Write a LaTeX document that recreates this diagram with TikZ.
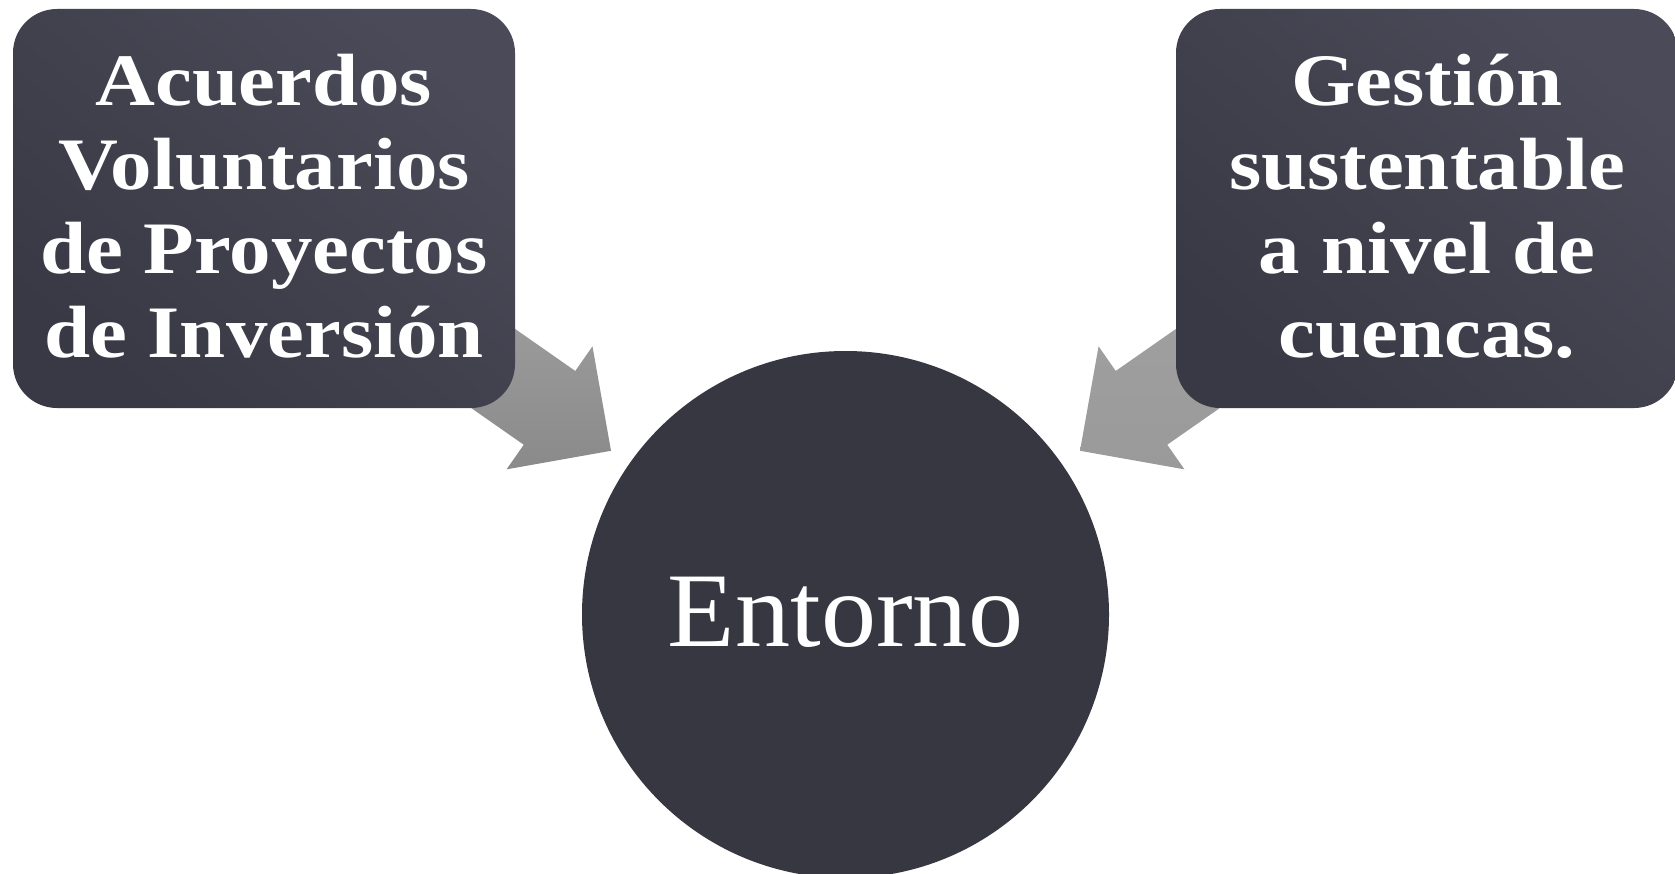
\documentclass[tikz,border=0pt]{standalone}
\usepackage{fontspec}
\setmainfont{Liberation Serif}
\newfontfamily\boxfont[FakeStretch=1.12]{Liberation Serif}
\newfontfamily\circfont[FakeStretch=1.04]{Liberation Serif}
\usetikzlibrary{calc,backgrounds}
\definecolor{boxdark}{HTML}{393945}
\definecolor{boxlight}{HTML}{4A4A58}
\definecolor{circdark}{HTML}{373742}
\definecolor{circlight}{HTML}{494957}
\definecolor{arrlight}{HTML}{ACACAC}
\definecolor{arrdark}{HTML}{8A8A8A}
\definecolor{arrmid}{HTML}{A4A4A4}
\definecolor{arrmiddark}{HTML}{9A9A9A}
\tikzset{
  boxnode/.style={rectangle, rounded corners=44pt, minimum width=502pt, minimum height=399pt,
    inner sep=0pt, align=center, text=white,
    font=\boxfont\fontsize{74}{84}\selectfont\bfseries,
    top color=boxlight, bottom color=boxdark, shading angle=-40},
  circnode/.style={circle, minimum size=527pt, inner sep=0pt, text=white,
    font=\circfont\fontsize{106}{110}\selectfont,
    left color=circdark, middle color=circlight, right color=circdark, shading angle=80},
}
\begin{document}
\begin{tikzpicture}[x=1pt,y=-1pt]
\useasboundingbox (0,0) rectangle (1675,874);
\node[boxnode] (A) at (264,208.5) {\raisebox{-6pt}[\height][\depth]{\begin{tabular}{@{}c@{}}Acuerdos\\Voluntarios\\de Proyectos\\de Inversión\end{tabular}}};
\node[boxnode] (B) at (1427,208.5) {\raisebox{-6pt}[\height][\depth]{\begin{tabular}{@{}c@{}}Gestión\\sustentable\\a nivel de\\cuencas.\end{tabular}}};
\node[circnode] (E) at (845.5,614.5) {\raisebox{2pt}[\height][\depth]{Entorno}};
\begin{scope}[on background layer]
\coordinate (Lt) at ($(E)!286pt!(A)$);
\coordinate (Lh) at ($(Lt)!75pt!(A)$);
\shade[top color=arrlight, bottom color=arrdark]
  ($(A)!45pt!-90:(Lh)$) -- ($(Lh)!45pt!90:(A)$) -- ($(Lh)!75pt!90:(A)$) -- (Lt)
  -- ($(Lh)!75pt!-90:(A)$) -- ($(Lh)!45pt!-90:(A)$) -- ($(A)!45pt!90:(Lh)$) -- cycle;
\coordinate (Rt) at ($(E)!286pt!(B)$);
\coordinate (Rh) at ($(Rt)!75pt!(B)$);
\shade[top color=arrmid, bottom color=arrmiddark]
  ($(B)!45pt!-90:(Rh)$) -- ($(Rh)!45pt!90:(B)$) -- ($(Rh)!75pt!90:(B)$) -- (Rt)
  -- ($(Rh)!75pt!-90:(B)$) -- ($(Rh)!45pt!-90:(B)$) -- ($(B)!45pt!90:(Rh)$) -- cycle;
\end{scope}
\end{tikzpicture}
\end{document}
